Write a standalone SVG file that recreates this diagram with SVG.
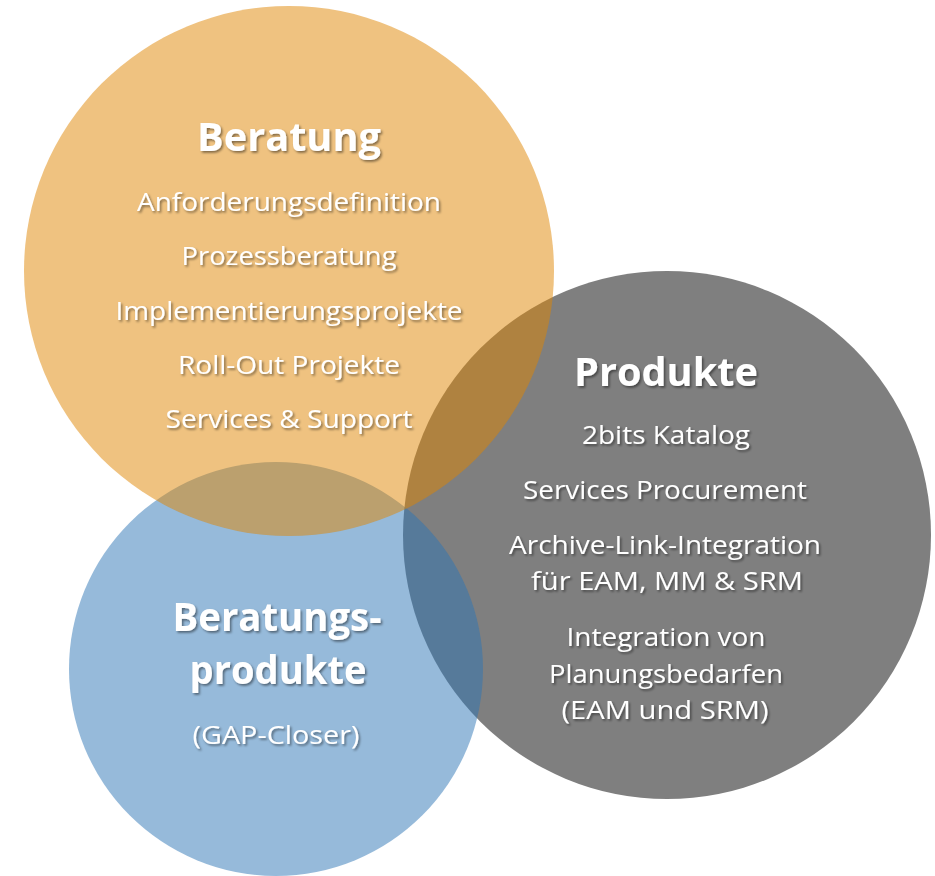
<svg xmlns="http://www.w3.org/2000/svg" width="935" height="876" viewBox="0 0 935 876">
  <defs>
    <filter id="sh" x="-10%" y="-30%" width="120%" height="160%">
      <feDropShadow dx="1.6" dy="1.8" stdDeviation="1.2" flood-color="#000000" flood-opacity="0.45"/>
    </filter>
  </defs>
  <style>
    text { font-family: "Open Sans", "Noto Sans", "DejaVu Sans", sans-serif; fill: #ffffff; text-anchor: middle; filter: url(#sh); }
    .t { font-size: 39px; font-weight: 700; }
    .i { font-size: 26px; font-weight: 400; }
  </style>
  <rect width="935" height="876" fill="#ffffff"/>

  <g id="produkte">
    <circle cx="667" cy="535" r="264" fill="#7f7f7f"/>
  </g>
  <g id="beratungsprodukte">
    <circle cx="276" cy="669" r="207" fill="#2e75b6" fill-opacity="0.5"/>
  </g>
  <g id="beratung">
    <circle cx="289" cy="271" r="265" fill="#df8502" fill-opacity="0.5"/>
  </g>
  <g id="connectors"></g>

  <g id="beratung-text">
    <text class="t" x="289" y="151" textLength="184" lengthAdjust="spacingAndGlyphs">Beratung</text>
    <text class="i" x="289" y="211" textLength="304" lengthAdjust="spacingAndGlyphs">Anforderungsdefinition</text>
    <text class="i" x="289" y="265" textLength="215" lengthAdjust="spacingAndGlyphs">Prozessberatung</text>
    <text class="i" x="289" y="320" textLength="347" lengthAdjust="spacingAndGlyphs">Implementierungsprojekte</text>
    <text class="i" x="289" y="374" textLength="222" lengthAdjust="spacingAndGlyphs">Roll-Out Projekte</text>
    <text class="i" x="289" y="428" textLength="247" lengthAdjust="spacingAndGlyphs">Services &amp; Support</text>
  </g>

  <g id="produkte-text">
    <text class="t" x="666" y="386" textLength="184" lengthAdjust="spacingAndGlyphs">Produkte</text>
    <text class="i" x="666" y="444" textLength="168" lengthAdjust="spacingAndGlyphs">2bits Katalog</text>
    <text class="i" x="665" y="499" textLength="284" lengthAdjust="spacingAndGlyphs">Services Procurement</text>
    <text class="i" x="665" y="554" textLength="312" lengthAdjust="spacingAndGlyphs">Archive-Link-Integration</text>
    <text class="i" x="667" y="590" textLength="272" lengthAdjust="spacingAndGlyphs">für EAM, MM &amp; SRM</text>
    <text class="i" x="666" y="646" textLength="199" lengthAdjust="spacingAndGlyphs">Integration von</text>
    <text class="i" x="666" y="683" textLength="234" lengthAdjust="spacingAndGlyphs">Planungsbedarfen</text>
    <text class="i" x="665" y="719" textLength="207" lengthAdjust="spacingAndGlyphs">(EAM und SRM)</text>
  </g>

  <g id="beratungsprodukte-text">
    <text class="t" x="277" y="631" textLength="209" lengthAdjust="spacingAndGlyphs">Beratungs-</text>
    <text class="t" x="278" y="684" textLength="177" lengthAdjust="spacingAndGlyphs">produkte</text>
    <text class="i" x="276" y="744" textLength="167" lengthAdjust="spacingAndGlyphs">(GAP-Closer)</text>
  </g>
</svg>
